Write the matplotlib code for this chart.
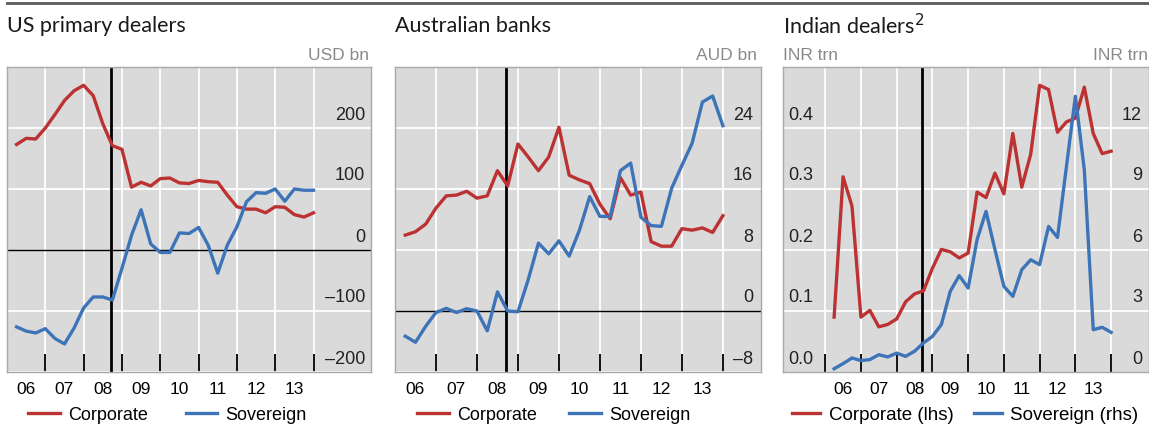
import numpy as np
import matplotlib
matplotlib.use('Agg')
import matplotlib.pyplot as plt
from matplotlib.transforms import offset_copy

plt.rcParams['font.family'] = ['Liberation Sans', 'DejaVu Sans']

# quarter-end positions, 2006 Q1 .. 2013 Q4
quarters = 2006 + np.arange(1, 33) / 4.0
year_labels = ['06', '07', '08', '09', '10', '11', '12', '13']

# US primary dealers, USD bn
us_corp = [173, 183, 182, 200, 222, 245, 261, 270, 253, 207, 171, 165,
           103, 111, 105, 117, 118, 110, 109, 114, 112, 111, 90, 71,
           67, 67, 61, 71, 70, 58, 54, 61]
us_sov = [-126, -133, -136, -129, -145, -154, -128, -95, -77, -77, -82, -30,
          24, 66, 10, -4, -4, 28, 27, 37, 8, -38, 8, 38,
          79, 94, 93, 100, 80, 100, 98, 98]

# Australian banks, AUD bn
au_corp = [9.95, 10.4, 11.4, 13.5, 15.1, 15.2, 15.7, 14.8, 15.1, 18.4, 16.4, 21.9,
           20.2, 18.4, 20.2, 24.1, 17.8, 17.2, 16.7, 14.0, 12.1, 17.5, 15.2, 15.6,
           9.1, 8.5, 8.5, 10.8, 10.6, 10.9, 10.3, 12.5]
au_sov = [-3.3, -4.1, -2.0, -0.2, 0.35, -0.2, 0.3, 0.0, -2.6, 2.5, 0.0, -0.1,
          4.1, 8.9, 7.5, 9.2, 7.2, 10.6, 15.0, 12.4, 12.4, 18.4, 19.4, 12.3,
          11.2, 11.1, 16.1, 19.1, 22.0, 27.4, 28.2, 24.3]

# Indian dealers, INR trn (corporate lhs, sovereign rhs)
in_corp = [0.090, 0.320, 0.272, 0.090, 0.101, 0.074, 0.078, 0.087, 0.115, 0.128,
           0.133, 0.170, 0.201, 0.197, 0.187, 0.195, 0.295, 0.286, 0.326, 0.292,
           0.391, 0.303, 0.357, 0.470, 0.463, 0.393, 0.410, 0.416, 0.467, 0.391,
           0.358, 0.362]
in_sov = [0.16, 0.41, 0.69, 0.56, 0.61, 0.85, 0.74, 0.93, 0.77, 1.02, 1.43, 1.75,
          2.33, 3.97, 4.74, 4.13, 6.51, 7.90, 6.02, 4.21, 3.72, 5.03, 5.52, 5.28,
          7.16, 6.62, 10.1, 13.56, 9.95, 2.08, 2.20, 1.95]

RED = '#BC3232'
BLUE = '#3D74B8'
BG = '#DADADA'
UNIT = '#8A8A8A'
LEHMAN = 2008.71

W, H = 1149.0, 424.0
fig = plt.figure(figsize=(W / 100, H / 100), dpi=100)

# rule across the top
fig.add_artist(plt.Line2D([0.006, 1.0], [1 - 2.5 / H, 1 - 2.5 / H],
                          transform=fig.transFigure, color='#5a5a5a', lw=2))


def make_axes(left, right, xlim, ylim, grid_y, ticks_x):
    ax = fig.add_axes([left / W, 1 - 372 / H, (right - left) / W, 305 / H])
    ax.set_facecolor(BG)
    ax.set_xlim(xlim)
    ax.set_ylim(ylim)
    ax.set_xticks(ticks_x)
    ax.set_xticklabels([])
    ax.set_xticks([y + 0.5 for y in range(2006, 2014)], minor=True)
    ax.set_xticklabels(year_labels, minor=True, fontsize=12.5)
    ax.tick_params(axis='x', which='major', direction='in', length=13,
                   width=1.3, color='black')
    ax.tick_params(axis='x', which='minor', length=0, pad=7)
    ax.set_yticks(grid_y)
    ax.tick_params(axis='y', length=0, labelleft=False)
    ax.grid(True, color='white', lw=1.3)
    ax.set_axisbelow(True)
    for s in ax.spines.values():
        s.set_color('#a8a8a8')
        s.set_linewidth(1)
    ax.axvline(LEHMAN, color='black', lw=2, zorder=2)
    return ax


def ylabels(ax, vals, fmt, xpos, ha):
    tr = offset_copy(ax.get_yaxis_transform(), fig=fig, y=13, units='dots')
    for v in vals:
        ax.text(xpos, v, fmt(v).replace('-', '\u2013'), transform=tr,
                ha=ha, va='center', fontsize=13, color='#222222')


def title(x, s):
    fig.text(x / W, 1 - 26 / H, s, fontsize=15.5, family=['Lato', 'DejaVu Sans'],
             ha='left', va='center', color='#1a1a1a')


def legend(ax, x, handles, labels, fs=13, colsp=2.0, hl=1.75):
    ax.legend(handles, labels, loc='center left',
              bbox_to_anchor=(x / W, 1 - 415 / H),
              bbox_transform=fig.transFigure, ncol=2, frameon=False,
              fontsize=fs, handlelength=hl, handletextpad=0.45,
              columnspacing=colsp, borderpad=0, borderaxespad=0)


# US primary dealers
ax1 = make_axes(7, 371, (2006, 2015.5), (-200, 300), [-200, -100, 100, 200],
                range(2007, 2015))
ax1.axhline(0, color='black', lw=1, zorder=2)
c1, = ax1.plot(quarters, us_corp, color=RED, lw=2.4, zorder=3)
s1, = ax1.plot(quarters, us_sov, color=BLUE, lw=2.4, zorder=3)
ylabels(ax1, [-200, -100, 0, 100, 200], lambda v: '%d' % v, 0.9835, 'right')
title(7, 'US primary dealers')
fig.text(369 / W, 1 - 55 / H, 'USD bn', ha='right', va='center', fontsize=12.5,
         color=UNIT)
legend(ax1, 28, [c1, s1], ['Corporate', 'Sovereign'], colsp=2.1)

# Australian banks
ax2 = make_axes(395, 761, (2006, 2014.93), (-8, 32), [-8, 8, 16, 24],
                range(2007, 2015))
ax2.axhline(0, color='black', lw=1, zorder=2)
c2, = ax2.plot(quarters, au_corp, color=RED, lw=2.4, zorder=3)
s2, = ax2.plot(quarters, au_sov, color=BLUE, lw=2.4, zorder=3)
ylabels(ax2, [-8, 0, 8, 16, 24], lambda v: '%d' % v, 0.978, 'right')
title(395, 'Australian banks')
fig.text(757 / W, 1 - 55 / H, 'AUD bn', ha='right', va='center', fontsize=12.5,
         color=UNIT)
legend(ax2, 417, [c2, s2], ['Corporate', 'Sovereign'], colsp=1.8)

# Indian dealers
ax3 = make_axes(783, 1149, (2004.82, 2015.06), (0, 0.5), [0.1, 0.2, 0.3, 0.4],
                range(2006, 2015))
c3, = ax3.plot(quarters, in_corp, color=RED, lw=2.4, zorder=3)
ax3r = ax3.twinx()
ax3r.set_ylim(0, 15)
ax3r.set_yticks([])
s3, = ax3r.plot(quarters, in_sov, color=BLUE, lw=2.4, zorder=3)
for s in ax3r.spines.values():
    s.set_visible(False)
ylabels(ax3, [0.0, 0.1, 0.2, 0.3, 0.4], lambda v: '%.1f' % v, 0.014, 'left')
ylabels(ax3r, [0, 3, 6, 9, 12], lambda v: '%d' % v, 0.981, 'right')
title(783, 'Indian dealers$^{2}$')
fig.text(783 / W, 1 - 55 / H, 'INR trn', ha='left', va='center', fontsize=12.5,
         color=UNIT)
fig.text(1148 / W, 1 - 55 / H, 'INR trn', ha='right', va='center', fontsize=12.5,
         color=UNIT)
legend(ax3r, 792, [c3, s3], ['Corporate (lhs)', 'Sovereign (rhs)'], fs=13.5,
       colsp=1.1, hl=1.5)

fig.savefig('out.png', dpi=100)
